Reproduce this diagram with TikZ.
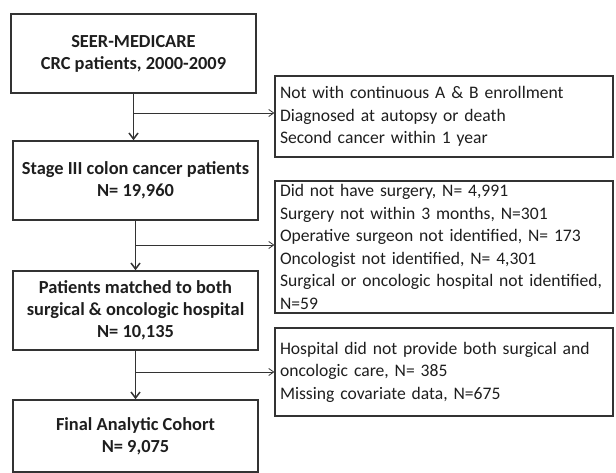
\documentclass[tikz,border=0pt]{standalone}
\usepackage{fontspec}
\setmainfont{Carlito}
\definecolor{mLine}{HTML}{333333}
\definecolor{mText}{HTML}{1E1E1E}
\usepackage{tikz}
\usetikzlibrary{positioning,arrows.meta,calc}
\tikzset{
  stagebox/.style={draw=mLine, line width=1.5pt, minimum width=245pt, minimum height=79pt,
    align=center, text=mText, font=\fontsize{18.4}{22}\selectfont\bfseries, inner sep=0pt},
  dropbox/.style={draw=mLine, line width=1.2pt, minimum width=338pt, text width=328pt,
    inner xsep=5pt, align=left, text=mText, font=\fontsize{17.6}{22.5}\selectfont},
  flow/.style={-{Straight Barb[length=6pt,width=9pt]}, draw=mLine, line width=1.5pt},
  drop/.style={-{Straight Barb[length=5pt,width=7pt]}, draw=mLine, line width=0.8pt}
}
\begin{document}
\begin{tikzpicture}[x=1pt, y=-1pt]
\useasboundingbox (0,0) rectangle (616,473);
% main stages
\node[stagebox] (seer) at (133.5,53.5) {SEER-MEDICARE\\CRC patients, 2000-2009};
\node[stagebox] (stage) at (135.5,180.5) {Stage III colon cancer patients\\N= 19,960};
\node[stagebox] (matched) at (135.5,310.5) {Patients matched to both\\surgical \& oncologic hospital\\N= 10,135};
\node[stagebox, minimum height=72pt] (final) at (135.5,436) {Final Analytic Cohort\\N= 9,075};
% exclusions
\node[dropbox, minimum height=81pt] (excl1) at (444,116.5) {Not with continuous A \& B enrollment\\Diagnosed at autopsy or death\\Second cancer within 1 year};
\node[dropbox, minimum height=132pt] (excl2) at (444,247) {Did not have surgery, N= 4,991\\Surgery not within 3 months, N=301\\Operative surgeon not identified, N= 173\\Oncologist not identified, N= 4,301\\\mbox{Surgical or oncologic hospital not identified,}\\N=59};
\node[dropbox, minimum height=88pt] (excl3) at (444,372) {Hospital did not provide both surgical and\\oncologic care, N= 385\\Missing covariate data, N=675};
% arrows
\draw[flow] (seer.south) -- (seer.south |- stage.north);
\draw[flow] (stage.south) -- (stage.south |- matched.north);
\draw[flow] (matched.south) -- (matched.south |- final.north);
\coordinate (b1) at (seer.south |- 0,113);
\coordinate (b2) at (stage.south |- 0,245);
\coordinate (b3) at (matched.south |- 0,372);
\draw[drop] (b1) -- (b1 -| excl1.west);
\draw[drop] (b2) -- (b2 -| excl2.west);
\draw[drop] (b3) -- (b3 -| excl3.west);
\end{tikzpicture}
\end{document}
